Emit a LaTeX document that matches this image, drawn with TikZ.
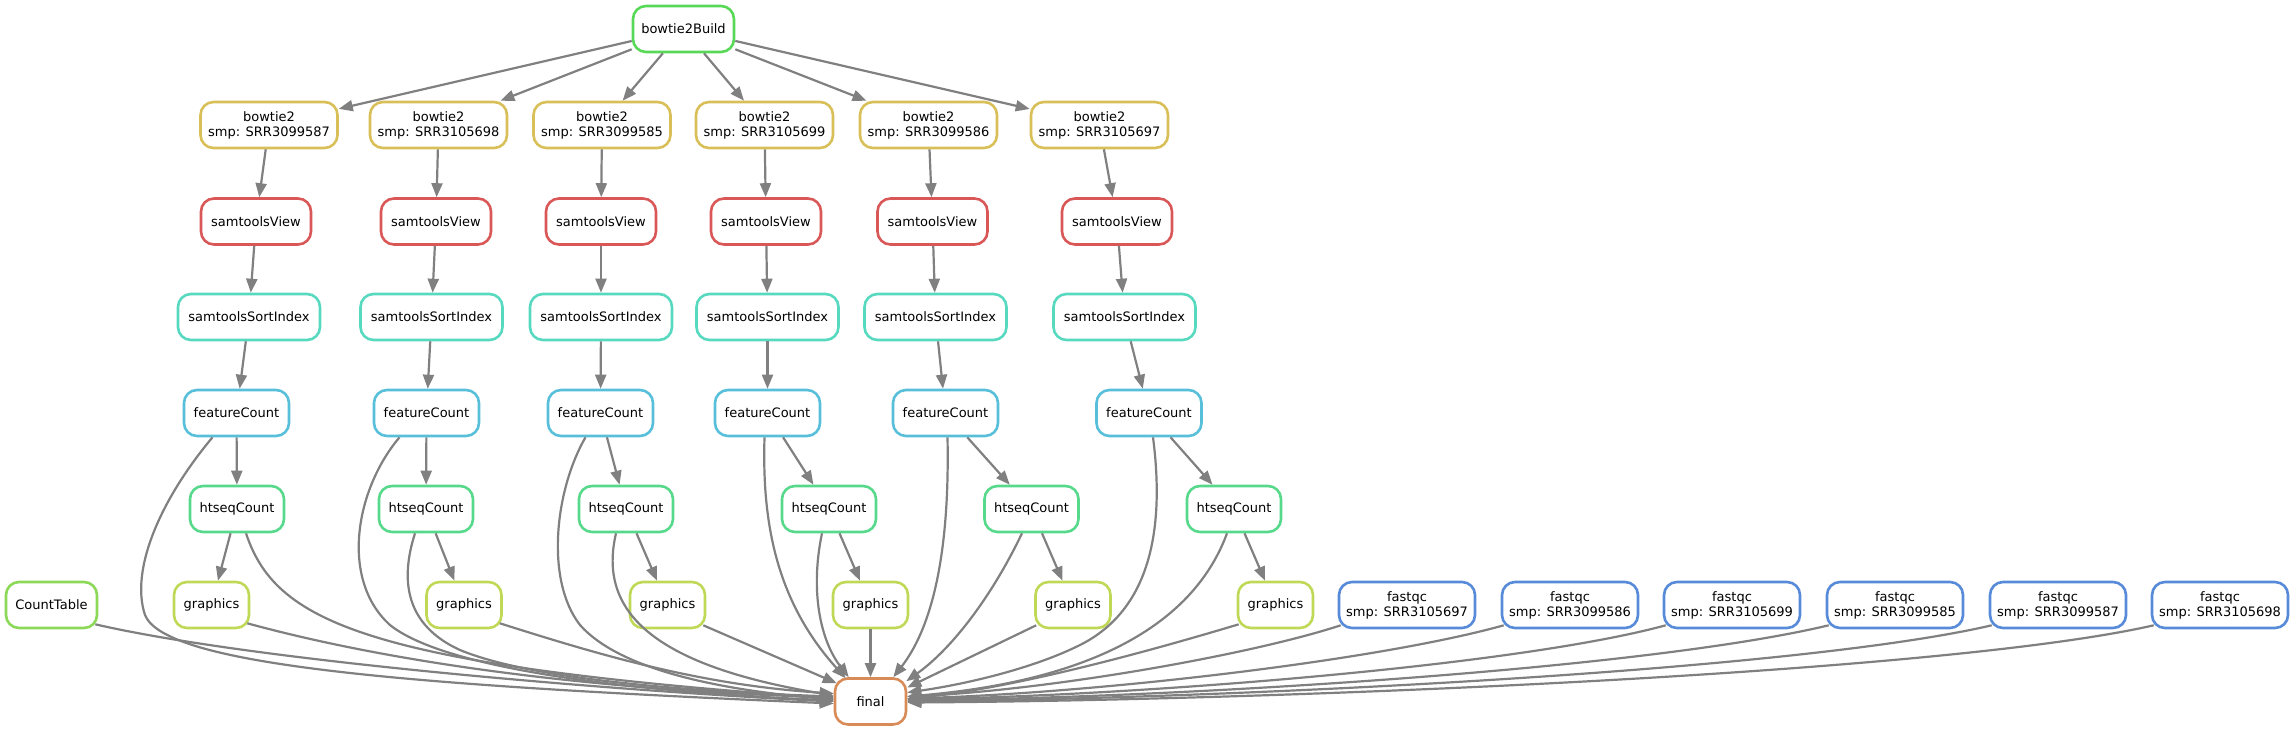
\documentclass[tikz,border=0pt]{standalone}
\usepackage{fontspec}
\setmainfont{DejaVu Sans}
\usetikzlibrary{arrows.meta,calc}
\definecolor{cSV}{HTML}{D95757}
\definecolor{cFin}{HTML}{D98B57}
\definecolor{cBw}{HTML}{D9BF57}
\definecolor{cGr}{HTML}{BFD957}
\definecolor{cCT}{HTML}{8BD957}
\definecolor{cBB}{HTML}{57D957}
\definecolor{cHS}{HTML}{57D98B}
\definecolor{cSI}{HTML}{57D9BF}
\definecolor{cFC}{HTML}{57BFD9}
\definecolor{cFQ}{HTML}{578BD9}
\definecolor{edgegray}{RGB}{128,128,128}
\tikzset{
  box/.style={draw, rounded corners=13pt, line width=2.6pt, minimum height=46pt,
    inner sep=0pt, align=center, fill=white, text=black,
    font=\fontsize{13}{15}\selectfont},
  edge/.style={draw=edgegray, line width=2.2pt, -{Triangle[length=14pt,width=11pt]}},
}
\begin{document}
\begin{tikzpicture}[x=1pt,y=-1pt]
\useasboundingbox (0,0) rectangle (2296,731);

\node[box, draw=cBB, minimum width=101pt] (bb) at (683.5,29) {bowtie2Build};
\node[box, draw=cCT, minimum width=91pt] (ct) at (51.5,605) {CountTable};
\node[box, draw=cFin, minimum width=71pt] (final) at (870.5,701.5) {final};

\foreach \i/\bx/\smp/\vx/\sx/\fx/\hx/\gx in {
  1/269/SRR3099587/256/249/236.5/237/211.5,
  2/438.5/SRR3105698/436/431.5/426.5/426/464,
  3/602/SRR3099585/601/601/600.5/626/667.5,
  4/764.5/SRR3105699/766/767.5/767.5/829/870.5,
  5/928.5/SRR3099586/932.5/935.5/945.5/1031.5/1073,
  6/1099.5/SRR3105697/1117/1124.5/1149/1234/1275.5}{
  \node[box, draw=cBw, minimum width=137pt] (bw\i) at (\bx,125) {bowtie2\\smp: \smp};
  \node[box, draw=cSV, minimum width=110pt] (sv\i) at (\vx,221.5) {samtoolsView};
  \node[box, draw=cSI, minimum width=142pt] (si\i) at (\sx,317) {samtoolsSortIndex};
  \node[box, draw=cFC, minimum width=105pt] (fc\i) at (\fx,413) {featureCount};
  \node[box, draw=cHS, minimum width=94pt] (hs\i) at (\hx,509) {htseqCount};
  \node[box, draw=cGr, minimum width=75pt] (g\i) at (\gx,605) {graphics};
  \draw[edge] (bb) -- (bw\i);
  \draw[edge] (bw\i) -- (sv\i);
  \draw[edge] (sv\i) -- (si\i);
  \draw[edge] (si\i) -- (fc\i);
  \draw[edge] (fc\i) -- (hs\i);
  \draw[edge] (hs\i) -- (g\i);
}

\foreach \i/\fxx/\smp in {1/1407/SRR3105697, 2/1570/SRR3099586, 3/1732/SRR3105699,
  4/1895/SRR3099585, 5/2058/SRR3099587, 6/2220/SRR3105698}{
  \node[box, draw=cFQ, minimum width=136pt] (fq\i) at (\fxx,605) {fastqc\\smp: \smp};
}

% edges into final, left side
\draw[edge] ($(ct.south east)+(-3,-5)$) .. controls (250,660) and (600,690) .. ($(final.west)+(0,0)$);
\draw[edge] ($(fc1.south)+(-24,0)$) .. controls (160,500) and (130,570) .. (145,615) .. controls (165,665) and (400,685) .. ($(final.west)+(0,2)$);
\draw[edge] ($(hs1.south)+(9,0)$) .. controls (275,620) and (360,665) .. ($(final.west)+(0,-3)$);
\draw[edge] ($(g1.south east)+(-3,-6)$) .. controls (400,665) and (600,690) .. ($(final.west)+(0,-4)$);
\draw[edge] ($(fc2.south)+(-27,0)$) .. controls (355,490) and (340,580) .. (390,625) .. controls (440,665) and (600,690) .. ($(final.west)+(0,-1)$);
\draw[edge] ($(hs2.south)+(-11,0)$) .. controls (400,580) and (405,625) .. (460,650) .. controls (520,675) and (650,690) .. ($(final.west)+(0,-5)$);
\draw[edge] ($(g2.south east)+(-3,-6)$) .. controls (600,655) and (700,685) .. ($(final.west)+(0,-8)$);
\draw[edge] ($(fc3.south)+(-15,0)$) .. controls (555,490) and (545,580) .. (580,625) .. controls (620,670) and (720,690) .. ($(final.west)+(0,-2)$);
\draw[edge] ($(hs3.south)+(-10,0)$) .. controls (598,610) and (650,665) .. ($(final.west)+(0,-6)$);
\draw[edge] ($(g3.south east)+(-3,-4)$) -- ($(final.north west)+(3,6)$);
% top
\draw[edge] ($(fc4.south)+(-3,0)$) .. controls (762,520) and (775,600) .. ($(final.north west)+(12,1)$);
\draw[edge] ($(hs4.south)+(-7,0)$) .. controls (810,590) and (820,640) .. ($(final.north west)+(15,0)$);
\draw[edge] (g4) -- (final);
\draw[edge] ($(fc5.south)+(2,0)$) .. controls (950,560) and (930,630) .. ($(final.north east)+(-14,0)$);
\draw[edge] ($(hs5.south)+(-9.5,0)$) .. controls (990,600) and (950,650) .. ($(final.north east)+(-1,4)$);
% right side
\draw[edge] ($(g5.south west)+(2,-4)$) -- ($(final.east)+(0,-14)$);
\draw[edge] ($(fc6.south)+(4,0)$) .. controls (1165,530) and (1150,610) .. (1080,645) .. controls (1030,670) and (960,685) .. ($(final.east)+(0,-9)$);
\draw[edge] ($(hs6.south)+(-7,0)$) .. controls (1195,620) and (1100,680) .. ($(final.east)+(0,-5)$);
\draw[edge] ($(g6.south west)+(2,-5)$) .. controls (1120,660) and (1000,690) .. ($(final.east)+(0,-3)$);
\draw[edge] ($(fq1.south west)+(3,-4)$) .. controls (1250,655) and (1050,690) .. ($(final.east)+(0,-5)$);
\draw[edge] ($(fq2.south west)+(3,-4)$) .. controls (1380,660) and (1100,693) .. ($(final.east)+(0,-3)$);
\draw[edge] ($(fq3.south west)+(3,-4)$) .. controls (1520,665) and (1150,695) .. ($(final.east)+(0,-2)$);
\draw[edge] ($(fq4.south west)+(3,-4)$) .. controls (1650,668) and (1200,697) .. ($(final.east)+(0,-1)$);
\draw[edge] ($(fq5.south west)+(3,-4)$) .. controls (1800,670) and (1250,698) .. ($(final.east)+(0,0)$);
\draw[edge] ($(fq6.south west)+(3,-4)$) .. controls (1950,672) and (1300,700) .. ($(final.east)+(0,1)$);
\end{tikzpicture}
\end{document}
